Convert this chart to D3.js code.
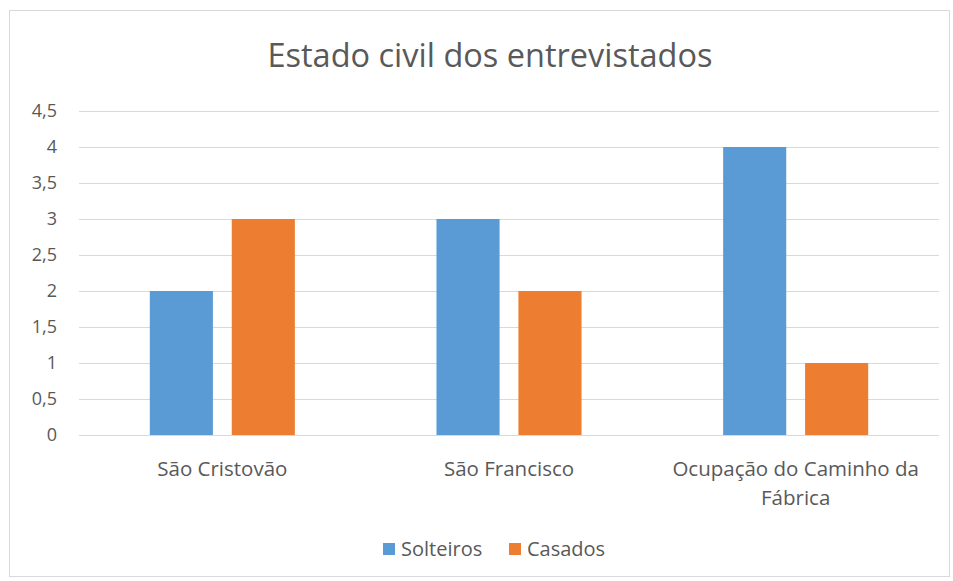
<!DOCTYPE html>
<html lang="pt">
<head>
  <meta charset="UTF-8">
  <title>Estado civil dos entrevistados</title>
  <style>
    html, body { margin: 0; background: #fff; }
    svg { display: block; font-family: "Open Sans", sans-serif; }
  </style>
</head>
<body>
  <script src="https://d3js.org/d3.v7.min.js"></script>
  <script>
    const categories = ["São Cristovão", "São Francisco", "Ocupação do Caminho da Fábrica"];
    const seriesNames = ["Solteiros", "Casados"];
    const solteiros = [2, 3, 4];
    const casados = [3, 2, 1];
    const yTicks = [0, 0.5, 1, 1.5, 2, 2.5, 3, 3.5, 4, 4.5];
    const colors = ["#5B9BD5", "#ED7D31"];

    const W = 953, H = 581;
    const plot = { left: 79, right: 939, top: 111, bottom: 435 };

    const svg = d3.select("body").append("svg")
      .attr("width", W)
      .attr("height", H);

    // chart frame
    svg.append("rect")
      .attr("x", 9.5).attr("y", 10.5)
      .attr("width", 940).attr("height", 566)
      .attr("fill", "#fff")
      .attr("stroke", "#d9d9d9");

    svg.append("text")
      .attr("x", 490).attr("y", 67)
      .attr("text-anchor", "middle")
      .attr("font-size", 32.5)
      .attr("fill", "#595959")
      .text("Estado civil dos entrevistados");

    const x0 = d3.scaleBand()
      .domain(categories)
      .range([plot.left, plot.right])
      .paddingInner(0.494)
      .paddingOuter(0.247);

    const x1 = d3.scaleBand()
      .domain(seriesNames)
      .range([0, x0.bandwidth()])
      .paddingInner(0.23);

    const y = d3.scaleLinear()
      .domain([0, 4.5])
      .range([plot.bottom, plot.top]);

    // gridlines
    svg.append("g")
      .selectAll("line")
      .data(yTicks)
      .join("line")
      .attr("x1", plot.left).attr("x2", plot.right)
      .attr("y1", d => Math.round(y(d)) + 0.5)
      .attr("y2", d => Math.round(y(d)) + 0.5)
      .attr("stroke", "#d9d9d9")
      .attr("stroke-width", 1.2);

    // y axis labels
    const fmt = d => String(d).replace(".", ",");
    const yAxis = svg.append("g")
      .attr("transform", `translate(${plot.left - 22},0)`)
      .call(d3.axisLeft(y).tickValues(yTicks).tickFormat(fmt).tickSize(0).tickPadding(0));
    yAxis.select(".domain").remove();
    yAxis.selectAll("text")
      .attr("font-family", "Open Sans, sans-serif")
      .attr("font-size", 18)
      .attr("fill", "#595959");

    // bars
    const rows = categories.map((c, i) => ({ cat: c, values: [solteiros[i], casados[i]] }));
    svg.append("g")
      .selectAll("g")
      .data(rows)
      .join("g")
      .attr("transform", d => `translate(${x0(d.cat)},0)`)
      .selectAll("rect")
      .data(d => d.values.map((v, j) => ({ name: seriesNames[j], v, j })))
      .join("rect")
      .attr("x", d => x1(d.name))
      .attr("width", x1.bandwidth())
      .attr("y", d => y(d.v))
      .attr("height", d => y(0) - y(d.v))
      .attr("fill", d => colors[d.j]);

    // x axis labels (wrap long one)
    const xLabels = [["São Cristovão"], ["São Francisco"], ["Ocupação do Caminho da", "Fábrica"]];
    categories.forEach((c, i) => {
      const cx = x0(c) + x0.bandwidth() / 2;
      const t = svg.append("text")
        .attr("x", cx)
        .attr("y", 476)
        .attr("text-anchor", "middle")
        .attr("font-size", 20.5)
        .attr("fill", "#595959");
      xLabels[i].forEach((line, k) => {
        t.append("tspan")
          .attr("x", cx)
          .attr("dy", k === 0 ? 0 : 29)
          .text(line);
      });
    });

    // legend
    const legendItems = [
      { name: seriesNames[0], x: 383 },
      { name: seriesNames[1], x: 509 }
    ];
    const lg = svg.append("g");
    legendItems.forEach((d, i) => {
      lg.append("rect")
        .attr("x", d.x).attr("y", 543)
        .attr("width", 12).attr("height", 12)
        .attr("fill", colors[i]);
      lg.append("text")
        .attr("x", d.x + 18).attr("y", 556)
        .attr("font-size", 20)
        .attr("fill", "#595959")
        .text(d.name);
    });
  </script>
</body>
</html>
